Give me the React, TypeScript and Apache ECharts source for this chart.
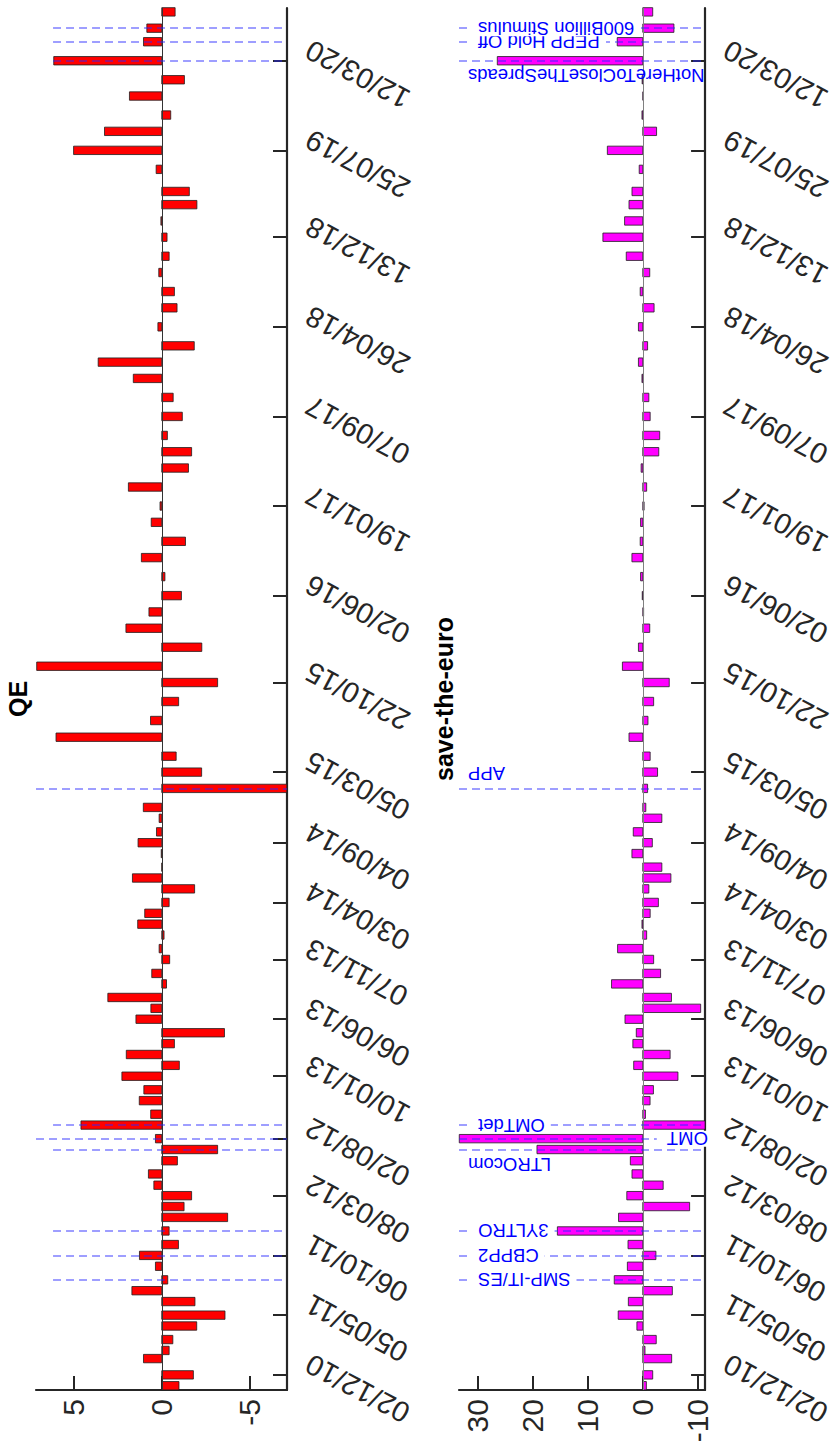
import React, { useEffect, useRef } from 'react';
import * as echarts from 'echarts';

// ECB monetary-policy meeting dates (one bar per date)
const meetingDates = [
  '2010-11-04', '2010-12-02',
  '2011-01-13', '2011-02-03', '2011-03-03', '2011-04-07', '2011-05-05', '2011-06-09', '2011-07-07', '2011-08-04', '2011-09-08', '2011-10-06', '2011-11-03', '2011-12-08',
  '2012-01-12', '2012-02-09', '2012-03-08', '2012-04-04', '2012-05-03', '2012-06-06', '2012-07-05', '2012-08-02', '2012-09-06', '2012-10-04', '2012-11-08', '2012-12-06',
  '2013-01-10', '2013-02-07', '2013-03-07', '2013-04-04', '2013-05-02', '2013-06-06', '2013-07-04', '2013-08-01', '2013-09-05', '2013-10-02', '2013-11-07', '2013-12-05',
  '2014-01-09', '2014-02-06', '2014-03-06', '2014-04-03', '2014-05-08', '2014-06-05', '2014-07-03', '2014-08-07', '2014-09-04', '2014-10-02', '2014-11-06', '2014-12-04',
  '2015-01-22', '2015-03-05', '2015-04-15', '2015-06-03', '2015-07-16', '2015-09-03', '2015-10-22', '2015-12-03',
  '2016-01-21', '2016-03-10', '2016-04-21', '2016-06-02', '2016-07-21', '2016-09-08', '2016-10-20', '2016-12-08',
  '2017-01-19', '2017-03-09', '2017-04-27', '2017-06-08', '2017-07-20', '2017-09-07', '2017-10-26', '2017-12-14',
  '2018-01-25', '2018-03-08', '2018-04-26', '2018-06-14', '2018-07-26', '2018-09-13', '2018-10-25', '2018-12-13',
  '2019-01-24', '2019-03-07', '2019-04-10', '2019-06-06', '2019-07-25', '2019-09-12', '2019-10-24', '2019-12-12',
  '2020-01-23', '2020-03-12', '2020-04-30', '2020-06-04', '2020-07-16',
];

// QE panel values
const qeValues = [
  -0.98, -1.8,
  1.04, -0.42, -0.63, -1.99, -3.6, -1.89, 1.7, -0.34, 0.36, 1.27, -0.95, -0.42,
  -3.75, -1.27, -1.7, 0.45, 0.76, -0.89, -3.18, 0.36, 4.6, 0.63, 1.28, 1.02,
  2.27, -1.0, 2.02, -0.72, -3.57, 1.47, 0.62, 3.07, -0.27, 0.57, -0.45, 0.15,
  -0.13, 1.37, 0.97, -0.42, -1.87, 1.67, -0.02, 0.03, 1.35, 0.3, 0.15, 1.05,
  -7.12, -2.27, -0.82, 6.02, 0.64, -0.96, -3.18, 7.12,
  -2.28, 2.04, 0.73, -1.12, -0.18, 1.16, -1.35, 0.6,
  0.1, 1.9, -1.52, -1.7, -0.32, -1.17, -0.65, 1.62,
  3.62, -1.85, 0.22, -0.87, -0.72, 0.17, -0.42, -0.3,
  0.05, -2.0, -1.57, 0.32, 5.02, 3.26, -0.51, 1.84,
  -1.29, 6.15, 1.04, 0.85, -0.76,
];

// save-the-euro panel values
const steValues = [
  -0.65, -1.8,
  -5.24, -0.4, -2.44, 1.07, 4.46, 2.62, -5.36, 5.18, 2.8, -2.38, 2.68, 15.5,
  4.4, -8.5, 2.9, -3.7, 1.96, 2.26, 19.2, 33.3, -11.3, -0.48, -1.32, -1.93,
  -6.38, 1.65, -4.96, 1.8, 1.18, 3.23, -10.5, -5.2, 5.67, -3.23, -1.97, 4.57,
  -0.7, 0.15, -1.34, -2.83, -1.1, -5.1, -3.46, 1.97, -1.73, 1.73, -3.46, -0.55,
  -0.87, -2.68, -1.34, 2.5, -0.94, -1.97, -4.8, 3.7,
  0.79, -1.26, -0.15, 0.1, 0.4, 1.97, 0.47, 0.4,
  -0.24, -0.7, 0.3, -2.9, -3.07, -1.34, -1.1, 0.15,
  0.79, -0.87, 0.79, -2.05, 0.47, -1.26, 3.0, 7.24,
  3.3, 2.5, 1.96, 0.65, 6.43, -2.5, 0.15, -0.1,
  0.12, 26.4, 4.64, -5.65, -1.8,
];

const tickDates = [
  '2010-12-02', '2011-05-05', '2011-10-06', '2012-03-08', '2012-08-02', '2013-01-10', '2013-06-06',
  '2013-11-07', '2014-04-03', '2014-09-04', '2015-03-05', '2015-10-22', '2016-06-02', '2017-01-19',
  '2017-09-07', '2018-04-26', '2018-12-13', '2019-07-25', '2020-03-12',
];

const qeTicks = [-5, 0, 5];
const steTicks = [-10, 0, 10, 20, 30];

const eventNames = ['SMP-IT/ES', 'CBPP2', '3YLTRO', 'LTROcom', 'OMT', 'OMTdet', 'APP', 'NotHereToCloseTheSpreads', 'PEPP Hold Off', '600Billion Stimulus'];
const eventDates = ['2011-08-04', '2011-10-06', '2011-12-08', '2012-07-05', '2012-08-02', '2012-09-06', '2015-01-22', '2020-03-12', '2020-04-30', '2020-06-04'];

const qeRange = [-7.13, 7.16];
const steRange = [-11.3, 33.35];

// dates are handled as day numbers (days since 1970-01-01, UTC)
const toDay = (s: string) => {
  const [y, m, d] = s.split('-').map(Number);
  return Math.round(Date.UTC(y, m - 1, d) / 86400000);
};
const pad2 = (n: number) => String(n).padStart(2, '0');
const fmtDay = (v: number) => {
  const dt = new Date(Math.round(v) * 86400000);
  return `${pad2(dt.getUTCDate())}/${pad2(dt.getUTCMonth() + 1)}/${pad2(dt.getUTCFullYear() % 100)}`;
};

const FONT = '"Liberation Sans", Arial, Helvetica, sans-serif';
const AXIS_COLOR = '#262626';

export default function App() {
  const ref = useRef<HTMLDivElement>(null);

  useEffect(() => {
    const el = ref.current;
    if (!el) return;
    const chart = echarts.init(el, undefined, { renderer: 'svg' });

    const meetDays = meetingDates.map(toDay);
    const tickDays = tickDates.map(toDay);
    const evDays = eventDates.map(toDay);
    const tMin = meetDays[0] - 11;
    const tMax = meetDays[meetDays.length - 1] + 10;

    const leftFullLines = new Set(['OMT', 'APP']);
    const leftLineStart = 6.19;

    const dashStyle = { color: 'rgba(40,40,255,0.6)', width: 1.6, type: [8, 5] as any };

    const valueAxis = (gridIndex: number, range: number[], ticks: number[]) => ({
      type: 'value',
      gridIndex,
      inverse: true,
      min: range[0],
      max: range[1],
      position: 'bottom',
      splitLine: { show: false },
      axisLine: { show: true, onZero: false, lineStyle: { color: AXIS_COLOR, width: 2.2 } },
      axisTick: { show: true, inside: true, length: 14, customValues: ticks, lineStyle: { color: AXIS_COLOR, width: 2 } },
      axisLabel: {
        show: true,
        customValues: ticks,
        rotate: 90,
        margin: 9,
        fontSize: 30,
        fontFamily: FONT,
        color: AXIS_COLOR,
        formatter: (v: number) => String(v),
      },
    });

    const dateAxis = (gridIndex: number) => ({
      type: 'value',
      gridIndex,
      position: 'right',
      min: tMin,
      max: tMax,
      splitLine: { show: false },
      axisLine: { show: true, onZero: false, lineStyle: { color: AXIS_COLOR, width: 2.2 } },
      axisTick: { show: true, inside: true, length: 14, customValues: tickDays, lineStyle: { color: AXIS_COLOR, width: 2 } },
      axisLabel: {
        show: true,
        customValues: tickDays,
        rotate: 152,
        margin: 14,
        verticalAlign: 'top',
        fontSize: 29,
        fontFamily: FONT,
        color: AXIS_COLOR,
        hideOverlap: false,
        formatter: (v: number) => fmtDay(v),
      },
    });

    const barSeries = (idx: number, values: number[], color: string) => ({
      type: 'custom',
      xAxisIndex: idx,
      yAxisIndex: idx,
      z: 2,
      encode: { x: 0, y: 1 },
      data: meetDays.map((t, i) => [values[i], t]),
      renderItem: (params: any, api: any) => {
        const v = api.value(0);
        const t = api.value(1);
        const a = api.coord([0, t]);
        const b = api.coord([v, t]);
        const h = 8.4;
        return {
          type: 'rect',
          shape: { x: Math.min(a[0], b[0]), y: a[1] - h / 2, width: Math.abs(b[0] - a[0]), height: h },
          style: { fill: color, stroke: '#1e1e1e', lineWidth: 0.8 },
        };
      },
    });

    const qeLines = evDays.map((t, i) => [
      { coord: [leftFullLines.has(eventNames[i]) ? qeRange[1] : leftLineStart, t] },
      { coord: [qeRange[0], t] },
    ]);
    const steLines = evDays.map((t) => [
      { coord: [steRange[1], t] },
      { coord: [steRange[0], t] },
    ]);

    const lineSeries = (idx: number, zeroColor: string, lines: any[]) => ({
      type: 'line',
      xAxisIndex: idx,
      yAxisIndex: idx,
      z: 3,
      data: [],
      symbol: 'none',
      markLine: {
        silent: true,
        symbol: ['none', 'none'],
        label: { show: false },
        lineStyle: dashStyle,
        data: [
          { xAxis: 0, lineStyle: { color: zeroColor, width: 1, type: 'solid' } },
          ...lines,
        ],
      },
    });

    const option: any = {
      animation: false,
      backgroundColor: '#ffffff',
      grid: [
        { left: 36, right: 835 - 287, top: 8, bottom: 1448 - 1390, containLabel: false },
        { left: 459, right: 835 - 709, top: 8, bottom: 1448 - 1390, containLabel: false },
      ],
      xAxis: [valueAxis(0, qeRange, qeTicks), valueAxis(1, steRange, steTicks)],
      yAxis: [dateAxis(0), dateAxis(1)],
      series: [
        barSeries(0, qeValues, '#ff0000'),
        barSeries(1, steValues, '#ff00ff'),
        lineSeries(0, '#333333', qeLines),
        lineSeries(1, '#808080', steLines),
      ],
    };

    chart.setOption(option);

    const titleFont = `bold 25px ${FONT}`;
    const graphics: any[] = [
      {
        type: 'text', x: 18, y: 699, rotation: Math.PI / 2, z: 100,
        style: { text: 'QE', font: titleFont, fill: '#000', align: 'center', verticalAlign: 'middle' },
      },
      {
        type: 'text', x: 444, y: 699, rotation: Math.PI / 2, z: 100,
        style: { text: 'save-the-euro', font: titleFont, fill: '#000', align: 'center', verticalAlign: 'middle' },
      },
    ];

    const below = new Set(['NotHereToCloseTheSpreads', 'LTROcom']);
    const above = new Set(['APP']);
    const nearZero = new Set(['OMT']);
    const annFont = `18.5px ${FONT}`;

    eventNames.forEach((name, i) => {
      const t = evDays[i];
      const pEdge = chart.convertToPixel({ gridIndex: 1 } as any, [steRange[1], t]) as any;
      const pZero = chart.convertToPixel({ gridIndex: 1 } as any, [0, t]) as any;
      if (!pEdge || !pZero) return;
      let x = pEdge[0] + 9;
      let y = pEdge[1];
      let inline = true;
      if (below.has(name)) { y += 15; inline = false; }
      if (above.has(name)) { y -= 15; inline = false; }
      if (nearZero.has(name)) { x = pZero[0] + 14; }
      const style: any = {
        text: name,
        font: annFont,
        fill: '#0000ff',
        align: 'right',
        verticalAlign: 'middle',
      };
      if (inline) {
        style.backgroundColor = '#ffffff';
        style.padding = [0, 10, 0, 6];
        style.lineHeight = 16;
      }
      graphics.push({ type: 'text', x, y, rotation: Math.PI, z: 100, style });
    });

    chart.setOption({ graphic: graphics });

    return () => {
      chart.dispose();
    };
  }, []);

  return (
    <div
      ref={ref}
      style={{ position: 'absolute', left: 0, top: 0, width: 835, height: 1448, background: '#fff' }}
    />
  );
}
